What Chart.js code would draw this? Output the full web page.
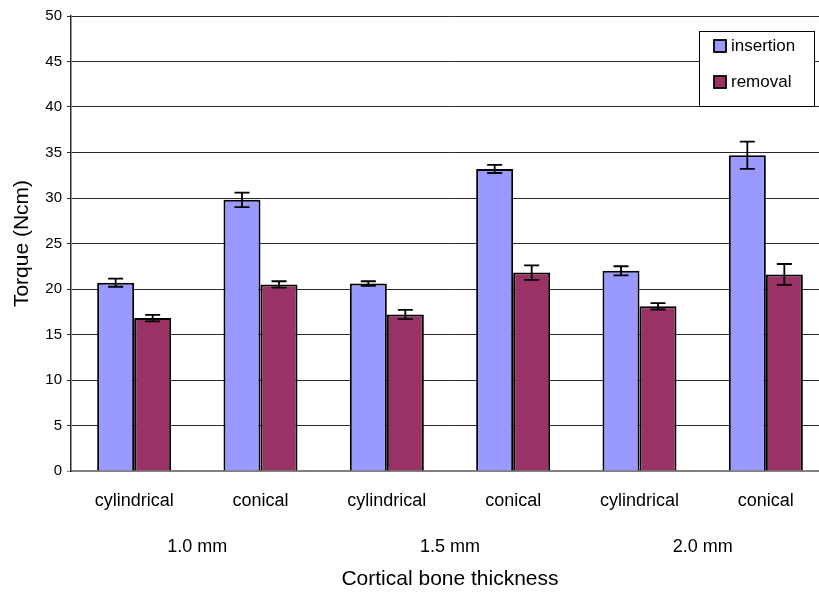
<!DOCTYPE html>
<html>
<head>
<meta charset="utf-8">
<script src="https://cdn.jsdelivr.net/npm/chart.js@4/dist/chart.umd.min.js"></script>
<style>
  html, body { margin: 0; padding: 0; background: #fff; overflow: hidden; }
  #wrap { width: 830px; height: 592px; }
</style>
</head>
<body>
<div id="wrap"><canvas id="chart" width="830" height="592"></canvas></div>
<script>
// categories (two levels on the x axis)
const shapes = ['cylindrical', 'conical', 'cylindrical', 'conical', 'cylindrical', 'conical'];
const thickness = ['1.0 mm', '1.5 mm', '2.0 mm'];

// torque values (Ncm)
const insertion = [20.7, 29.8, 20.6, 33.2, 22.0, 34.7];
const removal = [16.8, 20.5, 17.2, 21.8, 18.1, 21.6];

// error bar half-lengths
const insertionErr = [0.45, 0.8, 0.25, 0.45, 0.5, 1.5];
const removalErr = [0.35, 0.35, 0.5, 0.8, 0.35, 1.15];

const yTicks = [0, 5, 10, 15, 20, 25, 30, 35, 40, 45, 50];

const font = 'Liberation Sans, Arial, sans-serif';

// draws the whiskers for each bar
const errorBars = {
  id: 'errorBars',
  afterDatasetsDraw(chart) {
    const ctx = chart.ctx;
    const y = chart.scales.y;
    ctx.save();
    ctx.strokeStyle = '#000';
    ctx.lineWidth = 1.8;
    chart.data.datasets.forEach((ds, i) => {
      const meta = chart.getDatasetMeta(i);
      meta.data.forEach((bar, j) => {
        const v = ds.data[j], e = ds.errors[j];
        const top = y.getPixelForValue(v + e);
        const bot = y.getPixelForValue(v - e);
        const x = bar.x, w = 7.5;
        ctx.beginPath();
        ctx.moveTo(x, top); ctx.lineTo(x, bot);
        ctx.moveTo(x - w, top); ctx.lineTo(x + w, top);
        ctx.moveTo(x - w, bot); ctx.lineTo(x + w, bot);
        ctx.stroke();
      });
    });
    ctx.restore();
  }
};

// legend box inside the plot, top right like the original
const boxLegend = {
  id: 'boxLegend',
  afterDraw(chart) {
    const ctx = chart.ctx;
    const a = chart.chartArea;
    const bx = a.right - 130, by = a.top + 15, bw = 115, bh = 75;
    ctx.save();
    ctx.fillStyle = '#fff';
    ctx.fillRect(bx, by, bw, bh);
    ctx.strokeStyle = '#000';
    ctx.lineWidth = 1;
    ctx.strokeRect(bx + 0.5, by + 0.5, bw, bh);
    ctx.font = '17px ' + font;
    ctx.textBaseline = 'middle';
    chart.data.datasets.forEach((ds, i) => {
      const cy = by + 15 + i * 36;
      ctx.fillStyle = ds.backgroundColor;
      ctx.fillRect(bx + 15, cy - 6, 12, 12);
      ctx.lineWidth = 1.8;
      ctx.strokeRect(bx + 15, cy - 6, 12, 12);
      ctx.fillStyle = '#000';
      ctx.fillText(ds.label, bx + 32, cy);
    });
    ctx.restore();
  }
};

new Chart(document.getElementById('chart'), {
  type: 'bar',
  data: {
    labels: shapes,
    datasets: [
      {
        label: 'insertion',
        data: insertion,
        errors: insertionErr,
        backgroundColor: '#9999FF',
        borderColor: '#000',
        borderWidth: 2
      },
      {
        label: 'removal',
        data: removal,
        errors: removalErr,
        backgroundColor: '#993366',
        borderColor: '#000',
        borderWidth: 2
      }
    ]
  },
  options: {
    responsive: false,
    animation: false,
    layout: { padding: { left: 0, top: 16, right: 1, bottom: 0 } },
    datasets: { bar: { categoryPercentage: 0.586, barPercentage: 1.0 } },
    plugins: {
      legend: { display: false },
      tooltip: { enabled: false }
    },
    scales: {
      x: {
        position: 'bottom',
        grid: { display: false, drawTicks: false },
        border: { display: true, color: '#808080', width: 2 },
        ticks: { color: '#000', font: { family: font, size: 18 }, padding: 19 },
        afterFit(s) { s.height = 50; }
      },
      x2: {
        type: 'category',
        position: 'bottom',
        labels: thickness,
        offset: true,
        grid: { display: false, drawTicks: false },
        border: { display: false },
        ticks: { color: '#000', font: { family: font, size: 18 }, padding: 15 },
        title: {
          display: true,
          text: 'Cortical bone thickness',
          color: '#000',
          font: { family: font, size: 21 },
          padding: { top: 0, bottom: 0 }
        },
        afterFit(s) { s.height = 71; }
      },
      y: {
        min: 0,
        max: 50,
        afterBuildTicks(s) { s.ticks = yTicks.map(v => ({ value: v })); },
        grid: {
          color: c => c.tick && c.tick.value === 0 ? '#808080' : '#2a2a2a',
          lineWidth: 1,
          tickLength: 4
        },
        border: { color: '#2a2a2a', width: 1.5 },
        ticks: { color: '#000', font: { family: font, size: 15 }, padding: 5 },
        title: {
          display: true,
          text: 'Torque (Ncm)',
          color: '#000',
          font: { family: font, size: 21 },
          padding: { top: 10, bottom: 0 }
        },
        afterFit(s) { s.width = 71; }
      }
    }
  },
  plugins: [errorBars, boxLegend]
});
</script>
</body>
</html>
